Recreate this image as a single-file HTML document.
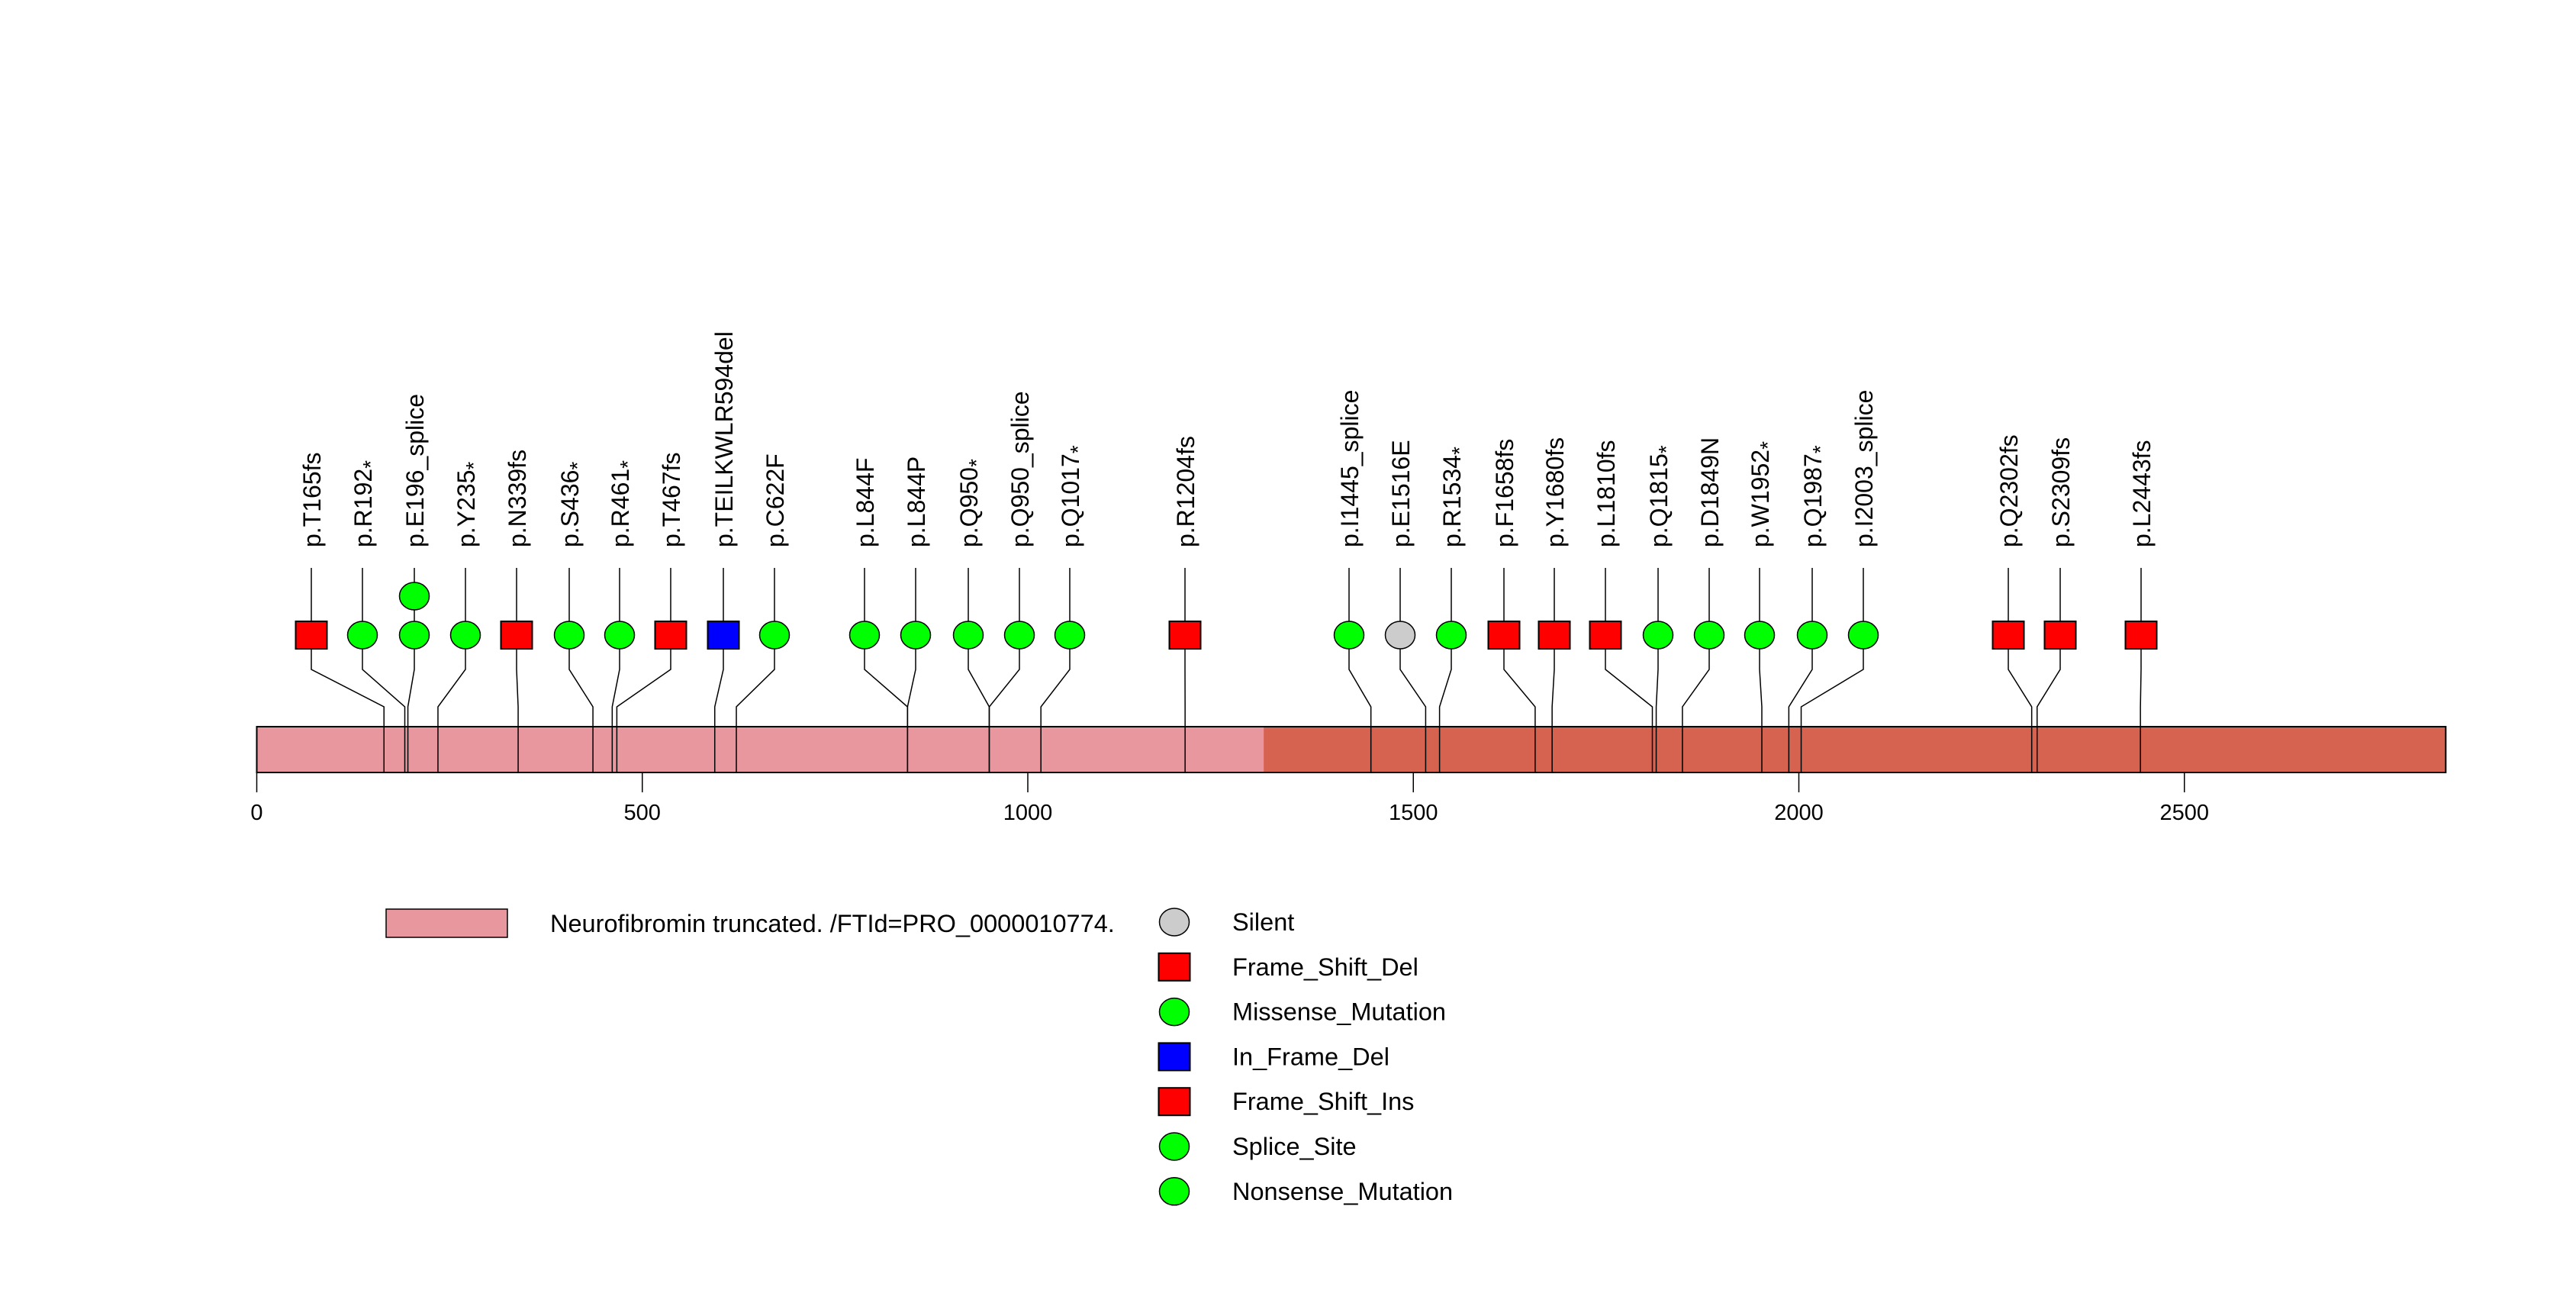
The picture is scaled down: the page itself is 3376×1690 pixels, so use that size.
<!DOCTYPE html>
<html><head><meta charset="utf-8"><style>
html,body{margin:0;padding:0;background:#fff}
svg{display:block;font-family:"Liberation Sans",sans-serif}
</style></head><body>
<svg id="chart" width="3376" height="1690" viewBox="0 0 3376 1690" xmlns="http://www.w3.org/2000/svg">
<g id="layer"></g>
</svg>
<script>
const proteinLength = 2839;
const domainStart = 1;
const domainEnd = 1306;
const tickValues = [0, 500, 1000, 1500, 2000, 2500];
const mutLabels = ["p.T165fs","p.R192*","p.E196_splice","p.Y235*","p.N339fs","p.S436*","p.R461*","p.T467fs","p.TEILKWLR594del","p.C622F","p.L844F","p.L844P","p.Q950*","p.Q950_splice","p.Q1017*","p.R1204fs","p.I1445_splice","p.E1516E","p.R1534*","p.F1658fs","p.Y1680fs","p.L1810fs","p.Q1815*","p.D1849N","p.W1952*","p.Q1987*","p.I2003_splice","p.Q2302fs","p.S2309fs","p.L2443fs"];
const mutPositions = [165,192,196,235,339,436,461,467,594,622,844,844,950,950,1017,1204,1445,1516,1534,1658,1680,1810,1815,1849,1952,1987,2003,2302,2309,2443];
const mutTypes = ["fs","non","splice","non","fs","non","non","fs","ifd","mis","mis","mis","non","splice","non","fs","splice","silent","non","fs","fs","fs","non","mis","non","non","splice","fs","fs","fs"];
const mutCounts = [1,1,2,1,1,1,1,1,1,1,1,1,1,1,1,1,1,1,1,1,1,1,1,1,1,1,1,1,1,1];
const labelSlotX = [408,475,543,610,677,746,812,879,948,1015,1133,1200,1269,1336,1402,1553,1768,1835,1902,1971,2037,2104,2173,2240,2306,2375,2442,2632,2700,2806];
const legendNames = ["Silent","Frame_Shift_Del","Missense_Mutation","In_Frame_Del","Frame_Shift_Ins","Splice_Site","Nonsense_Mutation"];
const legendKinds = ["silent","fs","mis","ifd","fs","splice","non"];

const NS="http://www.w3.org/2000/svg";
const layer=document.getElementById('layer');
const X0=336.5, SC=1.0105;
function xScale(p){return X0+p*SC;}
const BAR_T=952, BAR_B=1012;
function mk(tag,attrs,parent){const e=document.createElementNS(NS,tag);for(const k in attrs)e.setAttribute(k,attrs[k]);(parent||layer).appendChild(e);return e;}
const fill={fs:"#FF0000",ifd:"#0000FF",mis:"#00FF00",non:"#00FF00",splice:"#00FF00",silent:"#CCCCCC"};
function glyph(kind,cx,cy,name){
  let e;
  if(kind==="fs"||kind==="ifd"){e=mk('rect',{x:cx-20.5,y:cy-18,width:41,height:36,fill:fill[kind],stroke:"#000","stroke-width":2});}
  else{e=mk('ellipse',{cx:cx,cy:cy,rx:19.5,ry:18,fill:fill[kind],stroke:"#000","stroke-width":1.5});}
  
  
  return e;
}
let r=mk('rect',{x:xScale(0),y:BAR_T,width:xScale(proteinLength)-xScale(0),height:BAR_B-BAR_T,fill:"#D66250",stroke:"#000","stroke-width":2});


r=mk('rect',{x:xScale(domainStart-1)+1,y:BAR_T+1,width:xScale(domainEnd)-xScale(domainStart-1)-1,height:BAR_B-BAR_T-2,fill:"#E8979F"});


tickValues.forEach(t=>{
  const x=xScale(t);
  let l=mk('line',{x1:x,y1:BAR_B,x2:x,y2:1038,stroke:"#000","stroke-width":1.5});
  
  
  let tx=mk('text',{x:x,y:1074,"font-size":29,"text-anchor":"middle",fill:"#000"});
  tx.textContent=String(t);
  
  
});
mutLabels.forEach((lab,i)=>{
  const lx=labelSlotX[i], px=xScale(mutPositions[i]);
  let pl=mk('polyline',{points:`${lx},744 ${lx},877 ${px},926 ${px},${BAR_B}`,fill:"none",stroke:"#000","stroke-width":1.5});
  
  
  for(let c=0;c<mutCounts[i];c++){
    glyph(mutTypes[i],lx,832-c*51,'mutation-marker');
  }
  let t=mk('text',{transform:`translate(${lx+12},717) rotate(-90)`,"font-size":32,fill:"#000"});
  
  
  if(lab.endsWith('*')){
    t.textContent=lab.slice(0,-1);
    const ts=mk('tspan',{"font-size":28,dy:8},t);ts.textContent="*";
  } else t.textContent=lab;
});
let lr=mk('rect',{x:506,y:1191,width:159,height:37,fill:"#E8979F",stroke:"#000","stroke-width":1.5});


let lt=mk('text',{x:721,y:1221,"font-size":32.5,fill:"#000"});
lt.textContent="Neurofibromin truncated. /FTId=PRO_0000010774.";


legendNames.forEach((n,i)=>{
  const cy=1208+i*58.8;
  glyph(legendKinds[i],1539,cy,'legend-symbol');
  let t=mk('text',{x:1615,y:cy+11,"font-size":32.5,fill:"#000"});
  t.textContent=n;
  
  
});
</script>
</body></html>
